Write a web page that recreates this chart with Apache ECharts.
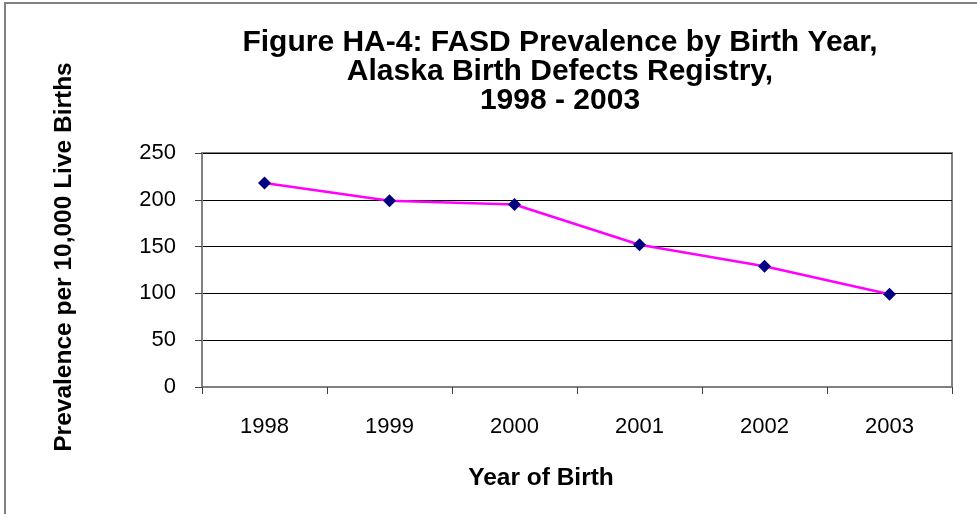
<!DOCTYPE html>
<html>
<head>
<meta charset="utf-8">
<script src="https://cdn.jsdelivr.net/npm/echarts@6/dist/echarts.min.js"></script>
<style>
  html, body { margin: 0; padding: 0; background: #fff; }
  #main { width: 977px; height: 514px; }
</style>
</head>
<body>
<div id="main"></div>
<script>
// 数据
var years = ["1998", "1999", "2000", "2001", "2002", "2003"];
var prevalence = [218, 199, 195, 152, 129, 99];
var yTicks = [0, 50, 100, 150, 200, 250];

var font = 'Arial, "Liberation Sans", sans-serif';

var myChart = echarts.init(document.getElementById('main'));

var option = {
  backgroundColor: '#ffffff',
  animation: false,
  title: {
    text: "Figure HA-4: FASD Prevalence by Birth Year,\nAlaska Birth Defects Registry,\n1998 - 2003",
    left: 555,
    top: 23,
    textAlign: 'center',
    textStyle: {
      fontFamily: font,
      fontSize: 30,
      fontWeight: 'bold',
      color: '#000',
      lineHeight: 29
    }
  },
  graphic: [{
    type: 'rect',
    shape: { x: 5, y: 3, width: 1100, height: 700 },
    style: { fill: 'none', stroke: '#808080', lineWidth: 2 },
    silent: true
  }],
  grid: {
    left: 202,
    top: 153,
    right: 25,
    bottom: 127,
    show: true,
    borderColor: '#808080',
    borderWidth: 2
  },
  xAxis: {
    type: 'category',
    data: years,
    boundaryGap: true,
    name: 'Year of Birth',
    nameLocation: 'middle',
    nameGap: 79,
    nameTextStyle: {
      fontFamily: font,
      fontSize: 24.5,
      fontWeight: 'bold',
      color: '#000',
      padding: [0, 72, 0, 0]
    },
    axisLine: { lineStyle: { color: '#808080', width: 2 } },
    axisTick: { show: true, length: 7, lineStyle: { color: '#404040', width: 1 } },
    axisLabel: { fontFamily: font, fontSize: 22, color: '#000', margin: 29 }
  },
  yAxis: {
    type: 'value',
    min: yTicks[0],
    max: yTicks[yTicks.length - 1],
    interval: 50,
    name: 'Prevalence per 10,000 Live Births',
    nameLocation: 'middle',
    nameRotate: 90,
    nameGap: 125,
    nameTextStyle: {
      fontFamily: font,
      fontSize: 24.5,
      fontWeight: 'bold',
      color: '#000',
      padding: [0, 0, 0, 26]
    },
    axisLine: { show: true, lineStyle: { color: '#808080', width: 2 } },
    axisTick: { show: true, length: 7, lineStyle: { color: '#404040', width: 1 } },
    axisLabel: { fontFamily: font, fontSize: 22, color: '#000', margin: 26 },
    splitLine: { show: true, lineStyle: { color: '#000', width: 1 } }
  },
  series: [{
    name: 'Prevalence',
    type: 'line',
    data: prevalence,
    symbol: 'diamond',
    symbolSize: 13,
    lineStyle: { color: '#ff00ff', width: 2.5 },
    itemStyle: { color: '#000080' }
  }]
};

myChart.setOption(option);
</script>
</body>
</html>
